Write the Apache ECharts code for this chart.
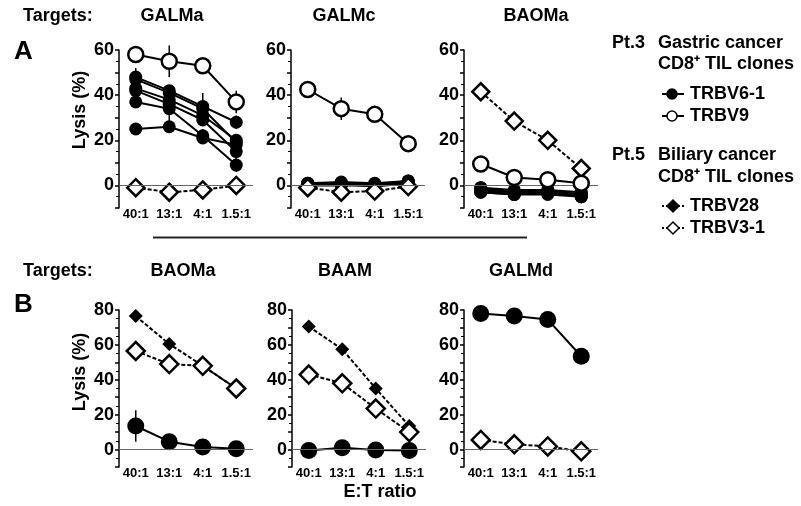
<!DOCTYPE html>
<html>
<head>
<meta charset="utf-8">
<script src="https://cdn.jsdelivr.net/npm/echarts@6/dist/echarts.min.js"></script>
<style>
html, body { margin: 0; padding: 0; background: #fff; }
#container { width: 801px; height: 506px; }
</style>
</head>
<body>
<div id="container"></div>
<script>
// E:T ratios (x categories)
var ratios = ['40:1', '13:1', '4:1', '1.5:1'];

// A - targets GALMa
var galmaV61 = [[48, 42, 35, 28], [47, 41, 34, 19], [43, 38, 31, 20], [42, 36, 29, 15], [37, 34, 22, 9], [25, 26, 21, 18]];
var galmaV61Err = [[4, 0, 6, 3], [0, 0, 0, 0], [0, 0, 0, 0], [0, 0, 0, 6], [0, 7, 3, 3], [0, 0, 0, 0]];
var galmaV9 = [58, 55, 53, 37];
var galmaV9Err = [2, 7, 1, 5];
var galmaV31 = [-1, -3, -2, 0];

// A - targets GALMc
var galmcV61 = [[1, 1, 0.5, 2], [0.5, 0.5, 0, 1.5], [0, 0.5, -0.5, 1], [1, 1.5, 1, 2], [0, 0, 0, 1.5], [0.5, 1, 0.5, 0.5]];
var galmcV9 = [42.5, 34, 31.5, 18.5];
var galmcV9Err = [1, 5, 3, 1];
var galmcV31 = [-1, -3, -2.5, -0.5];

// A - targets BAOMa
var baomaAV61 = [[-1, -3, -2, -4], [-2, -4, -3, -5], [-3, -4, -4, -5], [-1, -2, -2, -3], [-2, -3, -3, -4], [-3, -4, -3, -5]];
var baomaAV9 = [9.5, 3.5, 2.5, 1];
var baomaAV31 = [41.5, 28.5, 20, 7.5];

// B - targets BAOMa, BAAM, GALMd
var baomaBV28 = [76.5, 60.5, 48, 35];
var baomaBV31 = [56.5, 49, 48, 35];
var baomaBV61 = [13.5, 4.5, 1.5, 0.5];
var baomaBV61Err = [9, 1, 0, 0];
var baamV28 = [70.5, 57.5, 35, 13.5];
var baamV31 = [43, 38, 23.5, 10];
var baamV61 = [-0.5, 1, -0.3, -0.5];
var galmdV61 = [78, 76.5, 74.5, 53.5];
var galmdV31 = [5.5, 3, 1.8, -1];

var dom = document.getElementById('container');
var myChart = echarts.init(dom);
var font = 'Liberation Sans, Arial, Helvetica, sans-serif';

var grids = [
    {left: 119, top: 50, width: 134, height: 158},
    {left: 291, top: 50, width: 134, height: 158},
    {left: 464, top: 50, width: 134, height: 158},
    {left: 119, top: 310, width: 134, height: 157},
    {left: 292, top: 310, width: 134, height: 157},
    {left: 464, top: 310, width: 134, height: 157}
];

var xAxes = [], yAxes = [], series = [];
grids.forEach(function (g, i) {
    xAxes.push({
        type: 'category', gridIndex: i, data: ratios, boundaryGap: true,
        axisLine: {show: false}, axisTick: {show: false},
        axisLabel: {color: '#000', fontWeight: 'bold', fontSize: 13, fontFamily: font, margin: 0, interval: 0}
    });
    yAxes.push({
        type: 'value', gridIndex: i, min: -10, max: i < 3 ? 60 : 80, interval: 10,
        axisLine: {show: true, lineStyle: {color: '#000', width: 1.5}},
        axisTick: {show: true, length: 4, lineStyle: {color: '#000', width: 1.5}},
        minorTick: {show: true, splitNumber: 2, length: 3, lineStyle: {color: '#000', width: 1}},
        splitLine: {show: false},
        axisLabel: {
            color: '#000', fontWeight: 'bold', fontSize: 18, fontFamily: font, margin: 5,
            formatter: function (v) { return (v >= 0 && v % 20 === 0) ? v : ''; }
        }
    });
    // zero line
    series.push({
        type: 'line', xAxisIndex: i, yAxisIndex: i, data: [], z: 1, silent: true,
        markLine: {
            silent: true, symbol: 'none', label: {show: false},
            lineStyle: {color: '#666', width: 1, type: 'solid'},
            data: [{yAxis: 0}]
        }
    });
});

function errBars(vals, errs, i) {
    var d = [];
    for (var k = 0; k < vals.length; k++) {
        if (errs[k] > 0) d.push([k, vals[k] - errs[k], vals[k] + errs[k]]);
    }
    return {
        type: 'custom', xAxisIndex: i, yAxisIndex: i, z: 2, silent: true,
        encode: {x: 0, y: [1, 2]},
        data: d,
        renderItem: function (params, api) {
            var a = api.coord([api.value(0), api.value(1)]);
            var b = api.coord([api.value(0), api.value(2)]);
            return {type: 'line', shape: {x1: a[0], y1: a[1], x2: b[0], y2: b[1]}, style: {stroke: '#000', lineWidth: 1.5}};
        }
    };
}
// marker sizes are bigger in panel B
function big(i) { return i >= 3; }
function filled(data, i) {
    return {type: 'line', xAxisIndex: i, yAxisIndex: i, data: data, symbol: 'circle', symbolSize: big(i) ? 17 : 13, z: 3, silent: true,
        itemStyle: {color: '#000'}, lineStyle: {color: '#000', width: 2}};
}
function openCircle(data, i) {
    return {type: 'line', xAxisIndex: i, yAxisIndex: i, data: data, symbol: 'circle', symbolSize: 15, z: 5, silent: true,
        itemStyle: {color: '#fff', borderColor: '#000', borderWidth: 2.5}, lineStyle: {color: '#000', width: 2}};
}
function filledDiamond(data, i) {
    return {type: 'line', xAxisIndex: i, yAxisIndex: i, data: data, symbol: 'diamond', symbolSize: 14, z: 3, silent: true,
        itemStyle: {color: '#000'}, lineStyle: {color: '#000', width: 2, type: [4, 2]}};
}
function openDiamond(data, i) {
    return {type: 'line', xAxisIndex: i, yAxisIndex: i, data: data, symbol: 'diamond', symbolSize: big(i) ? 18 : 17, z: 4, silent: true,
        itemStyle: {color: '#fff', borderColor: '#000', borderWidth: 2.5}, lineStyle: {color: '#000', width: 2, type: [4, 2]}};
}

// panel A
galmaV61.forEach(function (d, k) { series.push(errBars(d, galmaV61Err[k], 0)); series.push(filled(d, 0)); });
series.push(errBars(galmaV9, galmaV9Err, 0));
series.push(openCircle(galmaV9, 0));
series.push(openDiamond(galmaV31, 0));

galmcV61.forEach(function (d) { series.push(filled(d, 1)); });
series.push(errBars(galmcV9, galmcV9Err, 1));
series.push(openDiamond(galmcV31, 1));
series.push(openCircle(galmcV9, 1));

baomaAV61.forEach(function (d) { series.push(filled(d, 2)); });
series.push(openCircle(baomaAV9, 2));
series.push(openDiamond(baomaAV31, 2));

// panel B
series.push(errBars(baomaBV61, baomaBV61Err, 3));
series.push(filled(baomaBV61, 3));
series.push(filledDiamond(baomaBV28, 3));
series.push(openDiamond(baomaBV31, 3));

series.push(filled(baamV61, 4));
series.push(filledDiamond(baamV28, 4));
series.push(openDiamond(baamV31, 4));

series.push(filled(galmdV61, 5));
series.push(openDiamond(galmdV31, 5));

function txt(t, x, y, size, align, rot) {
    return {type: 'text', x: x, y: y, rotation: rot || 0, silent: true,
        style: {text: t, font: 'bold ' + size + 'px ' + font, fill: '#000',
            textAlign: align || 'left', textVerticalAlign: 'middle'}};
}
function legLine(y, dashed) {
    return {type: 'line', silent: true, shape: {x1: 662, y1: y, x2: 684, y2: y},
        style: {stroke: '#000', lineWidth: 2, lineDash: dashed ? [2, 2] : null}};
}
function legCircle(y, fill) {
    return {type: 'circle', silent: true, shape: {cx: 672, cy: y, r: 5},
        style: {fill: fill, stroke: '#000', lineWidth: 1.5}};
}
function legDiamond(y, fill) {
    return {type: 'polygon', silent: true, shape: {points: [[673, y - 6], [679, y], [673, y + 6], [667, y]]},
        style: {fill: fill, stroke: '#000', lineWidth: 1.5}};
}

var graphics = [
    txt('Targets:', 23, 16, 18),
    txt('GALMa', 172, 16, 18, 'center'),
    txt('GALMc', 344, 16, 18, 'center'),
    txt('BAOMa', 536, 16, 18, 'center'),
    txt('A', 14, 52, 26),
    txt('Lysis (%)', 80, 110, 18, 'center', Math.PI / 2),
    {type: 'line', silent: true, shape: {x1: 153, y1: 237.5, x2: 527, y2: 237.5}, style: {stroke: '#222', lineWidth: 2}},
    txt('Targets:', 23, 271, 18),
    txt('BAOMa', 183, 271, 18, 'center'),
    txt('BAAM', 345, 271, 18, 'center'),
    txt('GALMd', 521, 271, 18, 'center'),
    txt('B', 14, 305, 26),
    txt('Lysis (%)', 80, 372, 18, 'center', Math.PI / 2),
    txt('E:T ratio', 380, 492, 18, 'center'),
    // legend
    txt('Pt.3', 612, 43, 18),
    txt('Gastric cancer', 658, 43, 18),
    txt('CD8\u207A TIL clones', 658, 64, 18),
    legLine(94, false), legCircle(94, '#000'), txt('TRBV6-1', 690, 94, 18),
    legLine(116, false), legCircle(116, '#fff'), txt('TRBV9', 690, 116, 18),
    txt('Pt.5', 612, 155, 18),
    txt('Biliary cancer', 658, 155, 18),
    txt('CD8\u207A TIL clones', 658, 177, 18),
    legLine(206, true), legDiamond(206, '#000'), txt('TRBV28', 690, 206, 18),
    legLine(228, true), legDiamond(228, '#fff'), txt('TRBV3-1', 690, 228, 18)
];

option = {
    animation: false,
    backgroundColor: '#fff',
    grid: grids,
    xAxis: xAxes,
    yAxis: yAxes,
    graphic: graphics,
    series: series
};

myChart.setOption(option, true);
</script>
</body>
</html>
